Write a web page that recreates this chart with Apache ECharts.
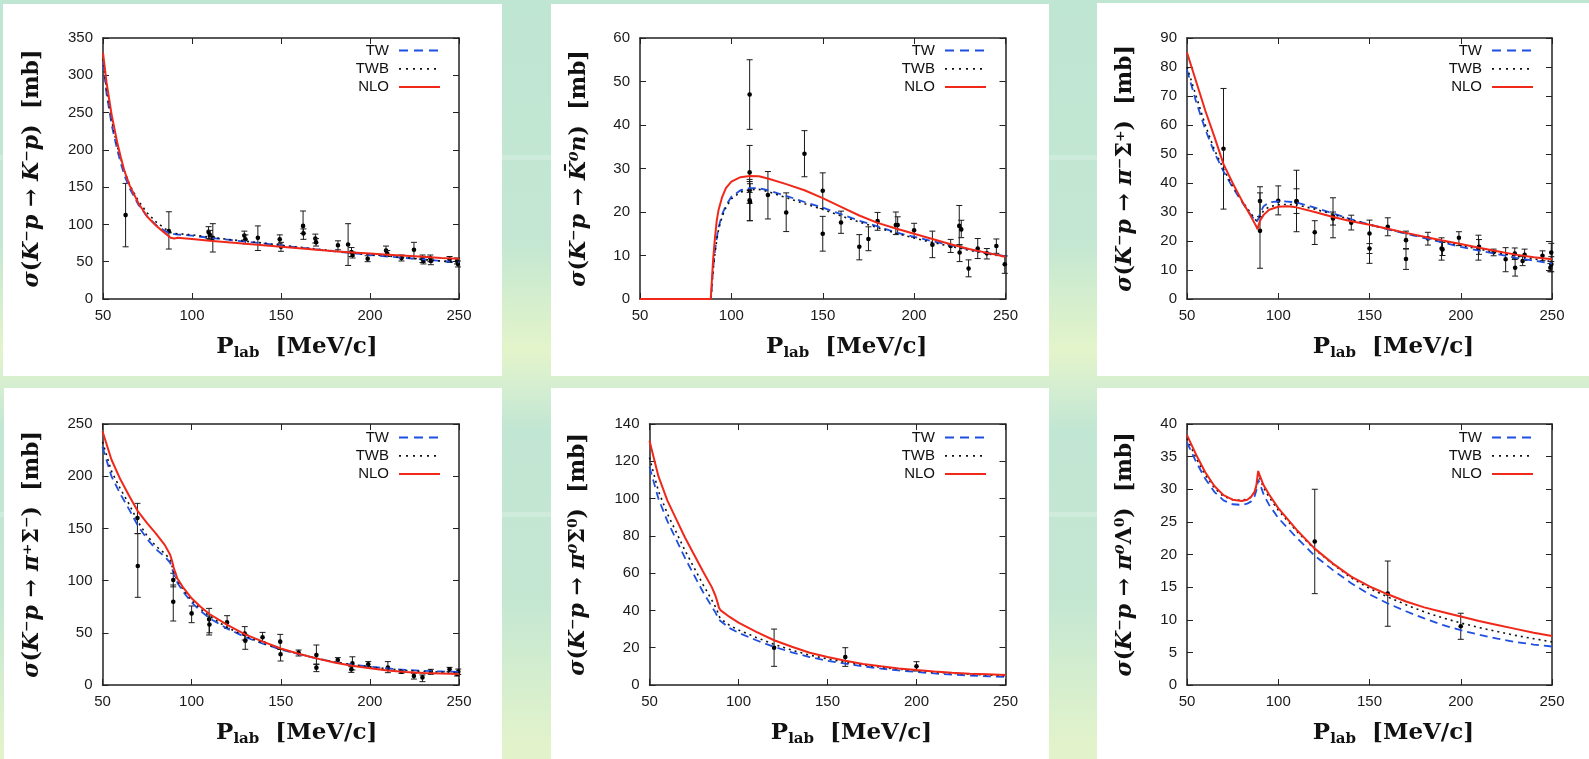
<!DOCTYPE html>
<html><head><meta charset="utf-8">
<script src="https://cdn.jsdelivr.net/npm/echarts@6/dist/echarts.min.js"></script>
<style>
html,body{margin:0;padding:0;width:1589px;height:759px;overflow:hidden;}
body{position:relative;background:linear-gradient(to bottom,#bfe5d3 0px,#c3e7d2 240px,#e3f4ca 350px,#d7efd0 382px,#c1e6d3 430px,#c4e7d2 600px,#e2f3cb 745px);}
.band{position:absolute;left:0;width:1589px;height:5px;background:rgba(255,255,255,0.2);}
.panel{position:absolute;background:#fff;}
#chart{position:absolute;left:0;top:0;width:1589px;height:759px;}
</style></head><body>
<div class="band" style="top:155px"></div>
<div class="band" style="top:512px"></div>
<div class="panel" style="left:3px;top:4px;width:499px;height:372px"></div>
<div class="panel" style="left:551px;top:4px;width:498px;height:372px"></div>
<div class="panel" style="left:1097px;top:3px;width:492px;height:373px"></div>
<div class="panel" style="left:4px;top:388px;width:498px;height:371px"></div>
<div class="panel" style="left:551px;top:388px;width:498px;height:371px"></div>
<div class="panel" style="left:1097px;top:388px;width:492px;height:371px"></div>
<div id="chart"></div>
<script>
// ---------- DATA ----------
var xTicks = [50, 100, 150, 200, 250];

// Panel 1: K-p -> K-p
var x1 = [50,52,55,58,60,62,65,70,75,80,85,88,89,90,92,95,100,110,120,130,140,150,160,170,180,190,200,210,220,230,240,250];
var tw1 = [318,275,232,200,182,166,148,126,110,99,91,87,86,87,86.5,86,85,82,79.5,77,74.5,72,69,66.5,64,61.5,59,57,55,53,51,49];
var twb1 = [322,280,238,205,188,172,153,131,115,103,94,89,87.5,88,87.5,87,86,83,80,77.5,75,72,69.5,67,64.5,62,59.5,57.5,55.5,53,51,49];
var nlo1 = [330,290,245,210,190,172,152,128,110,98,88,82,80,81,82,81.5,80.5,78,76,74,72,70,68,66,64,62.5,61,59.5,58,56.5,55,54];
var ex1 = [62.7,87,109.3,110,111.7,129.4,130,137,149.3,150,162.4,162.6,169.3,169.7,182,187.7,189.6,190.2,198.7,209,209.7,217.7,224.7,229.5,230,233.9,234.2,244.7,248.9,249.4];
var ey1 = [112.5,91,90,86,82,85,80,82,80,70,98,88,81,76,72,73,63,59,54,65,61,55,66,54,51,55,51,53,51,47];
var elo1 = [70,67,81,80,63,79,74,65,74,64,88,80,75,71,66,45,57,55,50,59,57,51,54,49,47,50,46,49,47,43];
var ehi1 = [155,117,97,92,101,91,86,98,86,76,118,94,87,81,78,101,69,63,58,71,65,59,76,59,56,59,55,57,55,51];

// Panel 2: K-p -> K0bar n
var x2 = [50,88.7,89,90,91,92,93,95,97,100,105,110,115,120,130,140,150,160,170,180,190,200,210,220,230,240,250];
var tw2 = [0,0,1,7,11,14,16.5,19.5,21.5,23.5,25,25.5,25.5,25,23.7,22.3,21,19.5,18,16.7,15.3,14.3,13.3,12.4,11.4,10.6,9.8];
var twb2 = [0,0,1,6.5,10.5,13.5,16,19,21,23,24.6,25.1,25.2,24.7,23.3,21.9,20.6,19.1,17.7,16.4,15.1,14,13,12.1,11.2,10.4,9.7];
var nlo2 = [0,0,2,9,14,18,20.5,23.5,25.5,27,28,28.3,28.2,27.7,26.4,25,23.2,21.2,19.2,17.5,16.2,15,13.8,12.6,11.5,10.6,9.7];
var ex2 = [110,110,110,110,110.2,120,130,140,150,150,160,170,175,180,190,191,200,210,220,224.7,224.9,225.8,229.8,234.8,239.8,245,249.6];
var ey2 = [47,29.1,25,22.7,22.3,23.9,19.9,33.4,24.9,15,17.6,12,13.8,17.9,17,17,15.8,12.5,12.2,16.8,10.7,16,7,11.6,10.5,12.2,8];
var elo2 = [39,24.5,22,18,18,18.4,15.5,28.1,20.8,11,15.1,9,11.1,15.8,14.8,15.1,14.2,9.5,10.7,12.4,8.6,14.1,5.1,9.3,9.2,10.5,5.9];
var ehi2 = [55,35.3,27,27.5,26.5,29.3,24.4,38.7,29,19,20.2,14.8,16.6,19.9,20,18.9,17.4,15.6,13.7,21.5,12.5,18.1,9,13.9,11.6,13.8,9.9];

// Panel 3: K-p -> pi- Sigma+
var x3 = [50,55,60,65,70,75,80,85,88,88.7,89,90,92,95,100,105,110,120,130,140,150,160,170,180,190,200,210,220,230,240,250];
var tw3 = [79,68,58.5,50.5,44,38.5,33.5,29,26.5,26,27.5,29.5,32,33.3,33.7,33.6,33.3,31.5,29.5,27.5,25.7,24,22.5,21,19.5,18,16.7,15.5,14.2,13.2,12.2];
var twb3 = [80,70,60,51.5,44.8,39,34,29.5,27,26.5,27.2,28.5,30.5,31.8,32.5,32.6,32.5,31,29.2,27.3,25.6,24.1,22.7,21.3,19.9,18.5,17.2,16,14.8,13.8,12.9];
var nlo3 = [85,75,65,56,46.5,40,34,28.5,25,24,25,27,29,30.8,31.8,32,31.6,30,28.3,26.8,25.6,24.2,22.8,21.5,20.2,19,17.7,16.5,15.3,14.4,13.7];
var ex3 = [70,90,90,100,110,110,120,130,130,140,150,150,160,170,170,182,189.5,190,199,209.7,210,218,224.6,229.6,229.8,233.9,235,244.8,249.1,249.6,249.6];
var ey3 = [51.8,33.8,23.5,33.9,33.8,33.5,23,28.4,27.8,26.3,22.6,17.4,24.9,20.3,13.8,20.9,17.4,17.1,21.1,17.4,18,16.1,13.7,15.7,10.8,13.1,15.2,14.9,10.8,11.9,16];
var elo3 = [31,28.4,10.6,29,23.2,29.5,18.8,21.1,25.5,23.8,12.3,15.7,21.8,17.4,10.2,18.6,13.4,15,18.4,13.4,15.4,14.9,9.4,13.6,7.9,11.5,13.3,13.2,9.4,9.4,12.9];
var ehi3 = [72.6,38.7,36.6,39,44.4,38,27,34.9,30,28.9,27.2,19.1,28,23.4,17.2,23,21.1,19.5,23.2,22,20.5,17.2,17.7,17.6,14,14.6,17.2,16.6,12.2,14.6,19.2];

// Panel 4: K-p -> pi+ Sigma-
var x4 = [50,55,60,65,70,75,80,85,88,89,90,92,95,100,105,110,120,130,140,150,160,170,180,190,200,210,220,230,240,250];
var tw4 = [228,200,183,168,152,140,130,123,117,112,106,98,90,79,71,64,54,46,39.5,34,29.5,25.5,22,19.5,17.5,15.8,14.5,13.5,13,12.5];
var twb4 = [233,205,188,173,156,143,133,126,120,114,108,100,92,81,73,66,55,47,40,34.5,29.8,25.7,22,19.5,17.3,15.5,14,13,12.3,11.8];
var nlo4 = [243,216,197,181,166,155,145,134,124.5,119,112,102,94,83,75,68,57.5,48.5,41.5,35,30,25.5,21.5,18.5,16,14,12.5,11.5,11,10.5];
var ex4 = [69.6,69.8,89.7,89.7,100,109.8,110,119.9,129.8,130.1,139.8,149.7,149.9,160,170,170,182,190.2,189.6,199.1,210.1,217.7,224.7,229.5,234.2,244.7,248.9,249.6];
var ey4 = [160,114,100.6,79.8,68.6,62.9,58,60,49.2,42.5,45.7,41.5,29.4,31,28.7,16.6,24,20.8,15,19.8,16.6,12.8,8.6,7.3,12.8,15,10.5,12.8];
var elo4 = [145,84,94,61.3,59.7,47.9,50,54.3,43.1,34.2,41.5,34.2,23,27.8,19.8,12.8,21.7,14.4,12.1,17.6,11.8,11.2,5.7,3.2,10.2,12.8,8.6,10.2];
var ehi4 = [174,145,107,95.8,75.7,73.4,66,66.4,55.9,48.5,50.4,48.5,34,33.5,38.3,20,26.2,27,17.6,22.4,22.4,14.4,11.2,9.6,15,16.9,12.8,15.3];

// Panel 5: K-p -> pi0 Sigma0
var x5 = [50,55,60,65,70,75,80,85,87,88,89,90,95,100,110,120,130,140,150,160,170,180,190,200,210,220,230,240,250];
var tw5 = [117,100,88,78,68,59,50,42,39,37,35,34,30.5,28,24,20.5,17.5,15,13,11.5,10,8.8,7.8,7,6.2,5.6,5.1,4.7,4.3];
var twb5 = [122,104,92,82,72,63,54,45.5,42,40,37,35.5,32,29.5,25.5,21.8,18.7,16,14,12.2,10.8,9.5,8.5,7.7,6.9,6.3,5.8,5.3,5];
var nlo5 = [131,112,99,89,79,70,61,52.5,48,45,41.5,40,36.5,33.5,28.5,24,20.5,17.3,15,13,11.3,10,8.9,8,7.2,6.6,6.1,5.7,5.3];
var ex5 = [120,160,200];
var ey5 = [20,15,10];
var elo5 = [10,10,7.5];
var ehi5 = [30,20,12.5];

// Panel 6: K-p -> pi0 Lambda0
var x6 = [50,55,60,65,70,75,80,83,85,87,88,89,90,92,95,100,110,120,130,140,150,160,170,180,190,200,210,220,230,240,250];
var tw6 = [37.2,34.2,31.6,29.6,28.3,27.7,27.6,27.8,28.1,28.9,29.8,31.5,30.8,29.2,27.6,25.6,22.6,19.8,17.6,15.6,13.9,12.5,11.3,10.2,9.2,8.4,7.7,7.1,6.6,6.2,5.9];
var twb6 = [37.8,34.8,32.2,30.2,28.9,28.4,28.3,28.5,28.8,29.5,30.5,32.3,31.6,30.2,28.8,26.8,23.6,20.8,18.5,16.4,14.8,13.5,12.3,11.2,10.3,9.5,8.8,8.2,7.6,7.1,6.6];
var nlo6 = [38.3,35.3,32.6,30.5,29.1,28.4,28.2,28.4,28.8,29.6,30.6,32.8,32,30.6,29.2,27.1,23.8,20.9,18.6,16.6,15.1,13.9,12.8,11.9,11.2,10.5,9.8,9.2,8.6,8,7.5];
var ex6 = [120,160,200];
var ey6 = [22,14,9];
var elo6 = [14,9,7];
var ehi6 = [30,19,11];

var seriesNames = ['TW', 'TWB', 'NLO'];
var yTitles = [
  '{i|σ}{r|(}{i|K⁻p}{r| → }{i|K⁻p}{r|)  [mb]}',
  '{i|σ}{r|(}{i|K⁻p}{r| → }{i|K̄⁰n}{r|)  [mb]}',
  '{i|σ}{r|(}{i|K⁻p}{r| → }{i|π⁻}{r|Σ⁺)  [mb]}',
  '{i|σ}{r|(}{i|K⁻p}{r| → }{i|π⁺}{r|Σ⁻)  [mb]}',
  '{i|σ}{r|(}{i|K⁻p}{r| → }{i|π⁰}{r|Σ⁰)  [mb]}',
  '{i|σ}{r|(}{i|K⁻p}{r| → }{i|π⁰}{r|Λ⁰)  [mb]}'
];
var xTitle = '{r|P}{s|lab}{r|  [MeV/c]}';
var yRanges = [[0,350,50],[0,60,10],[0,90,10],[0,250,50],[0,140,20],[0,40,5]];

var panelData = [
  {x:x1, c:[tw1,twb1,nlo1], ex:ex1, ey:ey1, lo:elo1, hi:ehi1},
  {x:x2, c:[tw2,twb2,nlo2], ex:ex2, ey:ey2, lo:elo2, hi:ehi2},
  {x:x3, c:[tw3,twb3,nlo3], ex:ex3, ey:ey3, lo:elo3, hi:ehi3},
  {x:x4, c:[tw4,twb4,nlo4], ex:ex4, ey:ey4, lo:elo4, hi:ehi4},
  {x:x5, c:[tw5,twb5,nlo5], ex:ex5, ey:ey5, lo:elo5, hi:ehi5},
  {x:x6, c:[tw6,twb6,nlo6], ex:ex6, ey:ey6, lo:elo6, hi:ehi6}
];

// ---------- LAYOUT / STYLE ----------
var layout = [
  {left:103, top:38, width:356, height:261, yGap:58, xPad:32, legR:1148, legT:43},
  {left:640, top:38, width:365.5, height:261, yGap:48, xPad:48, legR:602, legT:43},
  {left:1187, top:38, width:365, height:261, yGap:49, xPad:48, legR:55, legT:43},
  {left:102.5, top:424, width:356.5, height:261, yGap:57, xPad:32, legR:1148, legT:430},
  {left:649.5, top:424, width:356, height:261, yGap:58, xPad:48, legR:602, legT:430},
  {left:1187, top:424, width:365, height:261, yGap:49, xPad:48, legR:55, legT:430}
];
var lineStyles = [
  {color:'#1f4fe0', width:1.8, type:[8,5]},
  {color:'#111111', width:1.6, type:[2,4]},
  {color:'#f0281a', width:2, type:'solid'}
];
var legendLineStyles = [
  {color:'#1f4fe0', width:1.8, type:[9,6]},
  {color:'#111111', width:1.8, type:[2,5]},
  {color:'#f0281a', width:2, type:'solid'}
];
var serif = 'DejaVu Serif';
var richY = {
  i:{fontFamily:serif, fontWeight:'bold', fontStyle:'italic', fontSize:22, color:'#111', lineHeight:26},
  r:{fontFamily:serif, fontWeight:'bold', fontSize:22, color:'#111', lineHeight:26}
};
var richX = {
  r:{fontFamily:serif, fontWeight:'bold', fontSize:23, color:'#111', lineHeight:28},
  s:{fontFamily:serif, fontWeight:'bold', fontSize:15, color:'#111', lineHeight:16, verticalAlign:'bottom'}
};
var axisCol = '#222';
var tickFont = {fontFamily:'Liberation Sans', fontSize:15, color:'#1a1a1a'};

function errItem(params, api) {
  var x = api.value(0), y = api.value(1), lo = api.value(2), hi = api.value(3);
  var p = api.coord([x, y]), a = api.coord([x, lo]), b = api.coord([x, hi]);
  var c = 3, st = {stroke:'#1a1a1a', lineWidth:1};
  return {type:'group', children:[
    {type:'line', shape:{x1:a[0], y1:a[1], x2:b[0], y2:b[1]}, style:st},
    {type:'line', shape:{x1:a[0]-c, y1:a[1], x2:a[0]+c, y2:a[1]}, style:st},
    {type:'line', shape:{x1:b[0]-c, y1:b[1], x2:b[0]+c, y2:b[1]}, style:st},
    {type:'circle', shape:{cx:p[0], cy:p[1], r:2.3}, style:{fill:'#000'}}
  ]};
}

var grids = [], xAxes = [], yAxes = [], series = [], legends = [];
panelData.forEach(function (pd, i) {
  var L = layout[i], yr = yRanges[i];
  grids.push({left:L.left, top:L.top, width:L.width, height:L.height, containLabel:false});
  var xBase = {gridIndex:i, type:'value', min:xTicks[0], max:xTicks[xTicks.length-1], interval:xTicks[1]-xTicks[0],
    splitLine:{show:false}, axisLine:{show:true, onZero:false, lineStyle:{color:axisCol, width:1.5}},
    axisTick:{show:true, inside:true, length:6, lineStyle:{color:axisCol, width:1}}};
  xAxes.push(Object.assign({}, xBase, {position:'bottom', axisLabel:Object.assign({margin:9}, tickFont),
    name:xTitle, nameLocation:'middle', nameGap:34, nameTextStyle:{rich:richX, padding:[0,0,0,L.xPad]}}));
  xAxes.push(Object.assign({}, xBase, {position:'top', axisLabel:{show:false}}));
  var yBase = {gridIndex:i, type:'value', min:yr[0], max:yr[1], interval:yr[2],
    splitLine:{show:false}, axisLine:{show:true, onZero:false, lineStyle:{color:axisCol, width:1.5}},
    axisTick:{show:true, inside:true, length:6, lineStyle:{color:axisCol, width:1}}};
  yAxes.push(Object.assign({}, yBase, {position:'left', axisLabel:Object.assign({margin:10}, tickFont),
    name:yTitles[i], nameLocation:'middle', nameRotate:90, nameGap:L.yGap, nameTextStyle:{rich:richY}}));
  yAxes.push(Object.assign({}, yBase, {position:'right', axisLabel:{show:false}}));

  var errData = pd.ex.map(function (xv, k) { return [xv, pd.ey[k], pd.lo[k], pd.hi[k]]; });
  series.push({type:'custom', name:'data'+i, xAxisIndex:2*i, yAxisIndex:2*i, renderItem:errItem,
    encode:{x:0, y:1}, data:errData, z:2, silent:true});
  pd.c.forEach(function (ys, s) {
    series.push({type:'line', name:seriesNames[s], xAxisIndex:2*i, yAxisIndex:2*i,
      data:pd.x.map(function (xv, k) { return [xv, ys[k]]; }),
      symbol:'none', smooth:false, lineStyle:lineStyles[s], itemStyle:{color:lineStyles[s].color},
      z:3+s, silent:true, animation:false});
  });
  legends.push({
    data:seriesNames.map(function (n, s) { return {name:n, lineStyle:legendLineStyles[s]}; }),
    orient:'vertical', align:'right', right:L.legR, top:L.legT,
    padding:0, itemGap:3.3, itemWidth:41, itemHeight:10, selectedMode:false,
    itemStyle:{opacity:0, borderWidth:0},
    textStyle:{fontFamily:'Liberation Sans', fontSize:15, color:'#111', lineHeight:12, padding:[0,5,0,0]}});
});

var chart = echarts.init(document.getElementById('chart'), null, {renderer:'canvas'});
chart.setOption({
  animation:false,
  backgroundColor:'transparent',
  grid:grids, xAxis:xAxes, yAxis:yAxes, legend:legends, series:series
});
</script>
</body></html>
